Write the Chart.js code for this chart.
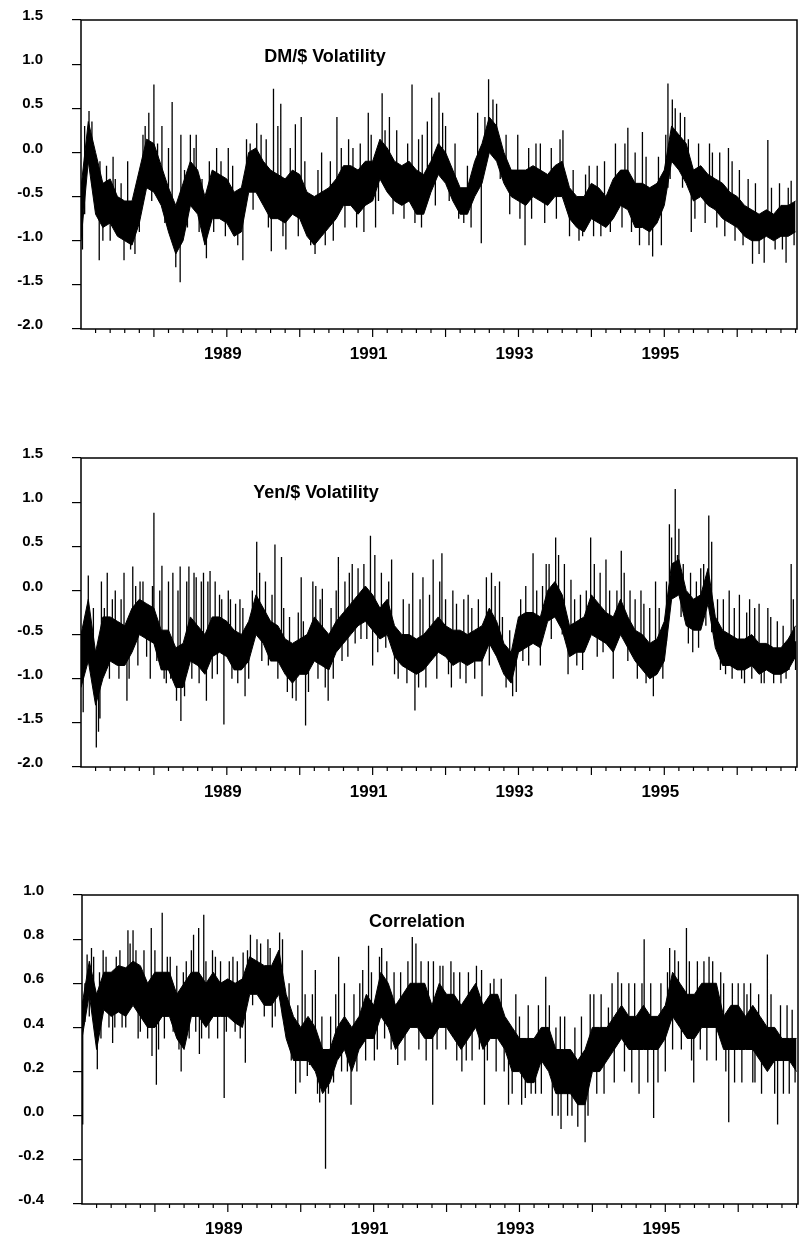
<!DOCTYPE html>
<html>
<head>
<meta charset="utf-8">
<script src="https://cdn.jsdelivr.net/npm/chart.js@4/dist/chart.umd.min.js"></script>
<style>
  html, body { margin: 0; padding: 0; background: #fff; }
  #wrap { position: relative; width: 803px; height: 1245px; }
  canvas { position: absolute; left: 0; }
</style>
</head>
<body>
<div id="wrap">
  <canvas id="dmChart" width="803" height="400" style="top:0px"></canvas>
  <canvas id="yenChart" width="803" height="400" style="top:438px"></canvas>
  <canvas id="corChart" width="803" height="400" style="top:875px"></canvas>
</div>
<script>
// core band sampled every 0.1 year from 1987.0
const START_YEAR = 1987;
const STEP = 0.1;

const dmHi = [-0.4, 0.35, 0.0, -0.35, -0.3, -0.5, -0.55, -0.55, -0.2, 0.15,
  0.1, -0.15, -0.4, -0.6, -0.35, -0.1, -0.2, -0.5, -0.2, -0.25,
  -0.3, -0.45, -0.4, 0.0, 0.05, -0.1, -0.2, -0.25, -0.3, -0.2,
  -0.25, -0.45, -0.5, -0.45, -0.4, -0.3, -0.15, -0.15, -0.2, -0.1,
  -0.1, 0.15, 0.05, -0.1, -0.15, -0.1, -0.2, -0.25, -0.1, 0.1,
  0.0, -0.2, -0.4, -0.4, -0.1, 0.1, 0.4, 0.3, 0.0, -0.2,
  -0.2, -0.2, -0.15, -0.2, -0.25, -0.15, -0.1, -0.4, -0.5, -0.5,
  -0.35, -0.4, -0.5, -0.3, -0.2, -0.2, -0.35, -0.35, -0.4, -0.35,
  -0.2, 0.3, 0.2, 0.1, -0.2, -0.15, -0.25, -0.3, -0.35, -0.45,
  -0.5, -0.6, -0.65, -0.7, -0.65, -0.7, -0.6, -0.6, -0.55];
const dmLo = [-1.0, -0.1, -0.7, -0.85, -0.8, -0.95, -1.0, -1.05, -0.8, -0.4,
  -0.45, -0.6, -0.9, -1.15, -1.0, -0.6, -0.7, -1.05, -0.75, -0.75,
  -0.8, -0.95, -0.9, -0.45, -0.45, -0.6, -0.75, -0.75, -0.8, -0.7,
  -0.75, -0.95, -1.05, -0.95, -0.85, -0.75, -0.6, -0.6, -0.7, -0.6,
  -0.55, -0.3, -0.45, -0.55, -0.6, -0.55, -0.7, -0.7, -0.45, -0.25,
  -0.35, -0.55, -0.7, -0.7, -0.5, -0.35, 0.0, -0.1, -0.35, -0.5,
  -0.55, -0.6, -0.5, -0.55, -0.6, -0.5, -0.5, -0.75, -0.85, -0.9,
  -0.75, -0.8, -0.85, -0.75, -0.6, -0.65, -0.85, -0.85, -0.9, -0.8,
  -0.6, -0.1, -0.2, -0.35, -0.55, -0.5, -0.6, -0.65, -0.75, -0.8,
  -0.85, -0.95, -1.0, -1.0, -0.95, -1.0, -0.95, -0.95, -0.9];
// [year, value] of single-day spikes sticking out of the band
const dmSpikes = [[1987.02, -1.1], [1987.05, 0.3], [1987.11, 0.47], [1987.15, 0.35], [1987.18, -0.5],
  [1987.25, -1.22], [1987.26, -0.1], [1987.3, -1.0], [1987.35, -0.15], [1987.4, -1.0],
  [1987.44, -0.05], [1987.47, -0.3], [1987.55, -0.35], [1987.59, -1.22], [1987.64, -0.1],
  [1987.68, -1.1], [1987.74, -1.15], [1987.8, -0.9], [1987.85, 0.2], [1987.88, 0.3],
  [1987.93, 0.45], [1987.97, -0.55], [1988.0, 0.77], [1988.05, 0.1], [1988.11, 0.3],
  [1988.15, -0.8], [1988.2, 0.05], [1988.25, 0.57], [1988.3, -1.3], [1988.36, -1.47],
  [1988.37, 0.2], [1988.42, -0.2], [1988.46, -0.85], [1988.5, 0.2], [1988.55, 0.05],
  [1988.58, 0.2], [1988.62, -0.9], [1988.66, -0.3], [1988.72, -1.2], [1988.76, -0.1],
  [1988.82, -0.9], [1988.86, 0.05], [1988.92, -0.1], [1988.98, -0.95], [1989.02, 0.05],
  [1989.08, -0.15], [1989.15, -1.05], [1989.22, -1.22], [1989.27, 0.15], [1989.32, 0.1],
  [1989.36, -0.65], [1989.41, 0.33], [1989.47, 0.2], [1989.54, 0.15], [1989.57, -0.85],
  [1989.61, -1.12], [1989.64, 0.72], [1989.7, 0.3], [1989.74, 0.55], [1989.77, -0.95],
  [1989.81, -1.1], [1989.87, 0.05], [1989.94, 0.32], [1989.98, -0.95], [1990.02, 0.4],
  [1990.07, -0.1], [1990.15, -1.05], [1990.21, -1.15], [1990.25, -0.2], [1990.3, 0.0],
  [1990.35, -1.05], [1990.42, -0.1], [1990.46, -1.0], [1990.51, 0.4], [1990.57, 0.05],
  [1990.62, -0.85], [1990.67, 0.15], [1990.73, 0.05], [1990.78, -0.85], [1990.83, 0.1],
  [1990.88, -0.9], [1990.94, 0.45], [1990.98, 0.2], [1991.04, -0.85], [1991.08, -0.55],
  [1991.13, 0.67], [1991.17, 0.25], [1991.23, 0.4], [1991.28, -0.7], [1991.33, 0.25],
  [1991.43, -0.75], [1991.48, 0.1], [1991.54, 0.77], [1991.58, -0.8], [1991.63, 0.15],
  [1991.67, -0.85], [1991.68, 0.2], [1991.75, 0.35], [1991.81, 0.62], [1991.86, -0.6],
  [1991.91, 0.68], [1991.96, 0.45], [1992.0, 0.3], [1992.05, -0.55], [1992.13, 0.1],
  [1992.18, -0.75], [1992.25, -0.8], [1992.3, -0.15], [1992.35, -0.85], [1992.44, 0.45],
  [1992.49, -1.03], [1992.54, 0.4], [1992.59, 0.83], [1992.65, 0.6], [1992.7, 0.55],
  [1992.75, -0.3], [1992.83, 0.2], [1992.88, -0.7], [1992.99, 0.2], [1993.02, -0.75],
  [1993.09, -1.05], [1993.14, 0.05], [1993.18, -0.75], [1993.24, 0.1], [1993.3, 0.1],
  [1993.36, -0.8], [1993.45, 0.05], [1993.52, -0.75], [1993.57, 0.15], [1993.61, 0.25],
  [1993.7, -0.95], [1993.75, -0.2], [1993.83, -1.0], [1993.88, -0.95], [1993.92, -0.25],
  [1993.97, -0.15], [1994.03, -0.95], [1994.08, -0.15], [1994.13, -0.95], [1994.18, -0.1],
  [1994.26, -0.9], [1994.33, 0.1], [1994.42, -0.85], [1994.46, 0.1], [1994.5, 0.28],
  [1994.55, -0.9], [1994.6, 0.0], [1994.66, -1.05], [1994.7, 0.23], [1994.75, -0.05],
  [1994.79, -1.05], [1994.84, -1.18], [1994.92, -0.05], [1994.96, -1.05], [1995.02, 0.2],
  [1995.05, 0.78], [1995.08, -0.3], [1995.11, 0.6], [1995.15, 0.5], [1995.22, 0.45],
  [1995.25, -0.4], [1995.28, 0.4], [1995.33, 0.15], [1995.37, -0.9], [1995.42, -0.75],
  [1995.47, 0.1], [1995.56, -0.8], [1995.62, 0.1], [1995.66, 0.0], [1995.72, -0.85],
  [1995.76, 0.0], [1995.83, -0.95], [1995.88, 0.05], [1995.93, -0.1], [1995.97, -1.0],
  [1996.03, -0.2], [1996.08, -1.05], [1996.15, -0.3], [1996.21, -1.26], [1996.25, -0.35],
  [1996.3, -1.15], [1996.37, -1.25], [1996.42, 0.14], [1996.47, -0.4], [1996.52, -1.1],
  [1996.58, -0.35], [1996.62, -1.1], [1996.67, -1.25], [1996.7, -0.4], [1996.74, -0.32],
  [1996.78, -1.05]];

const yenHi = [-0.5, -0.1, -0.7, -0.3, -0.3, -0.35, -0.4, -0.2, -0.1, -0.15,
  -0.2, -0.45, -0.45, -0.65, -0.6, -0.3, -0.4, -0.5, -0.3, -0.3,
  -0.35, -0.45, -0.5, -0.35, -0.05, -0.2, -0.35, -0.4, -0.55, -0.6,
  -0.55, -0.5, -0.3, -0.4, -0.5, -0.35, -0.25, -0.15, -0.05, 0.05,
  -0.05, -0.2, -0.1, -0.4, -0.5, -0.5, -0.55, -0.5, -0.4, -0.3,
  -0.4, -0.45, -0.45, -0.5, -0.45, -0.4, -0.2, -0.35, -0.6, -0.7,
  -0.3, -0.25, -0.25, -0.3, 0.0, 0.1, -0.05, -0.4, -0.35, -0.3,
  -0.05, -0.15, -0.25, -0.3, -0.1, -0.3, -0.45, -0.5, -0.6, -0.55,
  -0.35, 0.3, 0.35, 0.0, -0.1, -0.05, 0.25, -0.3, -0.45, -0.5,
  -0.55, -0.55, -0.5, -0.6, -0.6, -0.65, -0.65, -0.55, -0.4];
const yenLo = [-1.1, -0.8, -1.3, -1.0, -0.8, -0.85, -0.85, -0.7, -0.5, -0.55,
  -0.6, -0.9, -0.9, -1.1, -1.1, -0.8, -0.85, -0.95, -0.75, -0.7,
  -0.75, -0.9, -0.9, -0.8, -0.5, -0.6, -0.8, -0.8, -0.95, -1.05,
  -0.95, -0.95, -0.8, -0.85, -0.9, -0.7, -0.6, -0.5, -0.4, -0.35,
  -0.45, -0.55, -0.5, -0.75, -0.85, -0.9, -0.95, -0.9, -0.8, -0.7,
  -0.75, -0.85, -0.8, -0.85, -0.8, -0.8, -0.6, -0.75, -0.95, -1.05,
  -0.7, -0.65, -0.6, -0.65, -0.35, -0.3, -0.45, -0.75, -0.7, -0.7,
  -0.5, -0.55, -0.6, -0.7, -0.5, -0.65, -0.8, -0.9, -1.0, -0.95,
  -0.8, -0.1, -0.05, -0.4, -0.45, -0.45, -0.15, -0.65, -0.85, -0.85,
  -0.9, -0.9, -0.85, -0.95, -0.9, -0.95, -0.95, -0.9, -0.75];
const yenSpikes = [[1987.03, -1.38], [1987.06, -0.3], [1987.1, 0.17], [1987.14, -0.9], [1987.17, -0.2],
  [1987.21, -1.78], [1987.24, -1.6], [1987.26, -1.45], [1987.28, 0.1], [1987.32, -0.2],
  [1987.36, 0.2], [1987.39, -1.0], [1987.43, -0.1], [1987.47, 0.0], [1987.52, -1.0],
  [1987.55, -0.1], [1987.59, 0.2], [1987.63, -1.25], [1987.66, -1.0], [1987.71, 0.27],
  [1987.75, 0.05], [1987.78, -0.85], [1987.81, 0.1], [1987.85, 0.1], [1987.9, -0.75],
  [1987.95, -1.0], [1987.98, 0.05], [1988.0, 0.88], [1988.04, -0.8], [1988.08, 0.0],
  [1988.11, 0.28], [1988.14, -1.0], [1988.17, -1.05], [1988.2, 0.1], [1988.23, -1.0],
  [1988.26, 0.2], [1988.31, -1.25], [1988.33, 0.0], [1988.36, 0.27], [1988.37, -1.48],
  [1988.42, -1.2], [1988.45, 0.1], [1988.48, 0.27], [1988.52, -1.0], [1988.55, 0.2],
  [1988.58, 0.15], [1988.62, -1.05], [1988.65, 0.1], [1988.68, 0.2], [1988.72, -1.25],
  [1988.74, 0.1], [1988.77, 0.22], [1988.8, -1.0], [1988.84, 0.1], [1988.87, -0.95],
  [1988.9, -0.05], [1988.93, -0.1], [1988.96, -1.52], [1989.02, 0.0], [1989.05, -0.1],
  [1989.07, -1.0], [1989.12, -0.15], [1989.15, -1.05], [1989.18, -0.1], [1989.22, -0.2],
  [1989.25, -1.2], [1989.3, -1.0], [1989.35, 0.0], [1989.41, 0.55], [1989.45, 0.2],
  [1989.48, -0.8], [1989.53, 0.1], [1989.57, -0.85], [1989.62, -0.05], [1989.66, 0.52],
  [1989.7, -1.0], [1989.75, 0.38], [1989.78, -0.2], [1989.83, -1.15], [1989.86, -0.3],
  [1989.9, -1.22], [1989.95, -1.25], [1989.98, -0.25], [1990.02, 0.15], [1990.05, -0.35],
  [1990.08, -1.53], [1990.12, -1.15], [1990.18, 0.1], [1990.22, 0.05], [1990.25, -1.0],
  [1990.28, -0.1], [1990.31, 0.02], [1990.35, -1.1], [1990.39, -1.25], [1990.43, -0.2],
  [1990.46, -1.0], [1990.5, 0.0], [1990.53, 0.38], [1990.58, -0.8], [1990.62, 0.1],
  [1990.66, -0.75], [1990.68, 0.2], [1990.72, 0.3], [1990.76, -0.6], [1990.8, 0.25],
  [1990.84, -0.55], [1990.88, 0.3], [1990.92, -0.55], [1990.97, 0.62], [1991.0, -0.85],
  [1991.03, 0.4], [1991.07, -0.7], [1991.12, 0.2], [1991.18, -0.65], [1991.22, 0.1],
  [1991.26, 0.35], [1991.3, -0.95], [1991.35, -1.0], [1991.42, -0.1], [1991.47, -1.05],
  [1991.5, -0.15], [1991.55, 0.2], [1991.58, -1.36], [1991.63, -1.1], [1991.65, -0.1],
  [1991.69, 0.15], [1991.73, -1.1], [1991.78, -0.05], [1991.83, 0.35], [1991.88, -1.0],
  [1991.92, 0.1], [1991.95, 0.42], [1992.0, -0.1], [1992.04, -0.95], [1992.08, -1.1],
  [1992.1, 0.0], [1992.15, -0.15], [1992.2, -1.0], [1992.25, -0.1], [1992.28, -1.05],
  [1992.31, -0.05], [1992.36, -0.2], [1992.4, -1.0], [1992.45, -0.1], [1992.5, -1.2],
  [1992.56, 0.15], [1992.6, -0.85], [1992.63, 0.2], [1992.68, 0.05], [1992.74, 0.1],
  [1992.78, -0.3], [1992.83, -1.1], [1992.88, -0.45], [1992.92, -1.2], [1992.97, -1.15],
  [1993.03, -0.1], [1993.06, -0.8], [1993.1, 0.05], [1993.14, -0.85], [1993.2, 0.42],
  [1993.25, 0.0], [1993.3, -0.85], [1993.33, 0.05], [1993.38, 0.3], [1993.42, 0.3],
  [1993.45, -0.55], [1993.51, 0.6], [1993.55, 0.4], [1993.6, -0.5], [1993.63, 0.3],
  [1993.68, -0.95], [1993.72, 0.12], [1993.77, -0.1], [1993.8, -0.85], [1993.85, -0.05],
  [1993.88, -0.9], [1993.93, 0.0], [1993.99, 0.6], [1994.04, 0.3], [1994.08, -0.75],
  [1994.12, 0.2], [1994.16, -0.7], [1994.2, 0.35], [1994.25, 0.0], [1994.3, -1.0],
  [1994.35, 0.0], [1994.41, 0.45], [1994.45, 0.2], [1994.5, -0.8], [1994.53, 0.0],
  [1994.6, -0.1], [1994.63, -1.0], [1994.68, 0.0], [1994.72, -0.15], [1994.75, -1.05],
  [1994.8, -0.2], [1994.85, -1.2], [1994.88, 0.1], [1994.93, -0.2], [1994.98, -1.0],
  [1995.03, 0.1], [1995.07, 0.75], [1995.1, 0.6], [1995.15, 1.15], [1995.18, 0.4],
  [1995.2, 0.7], [1995.23, -0.3], [1995.26, 0.3], [1995.33, -0.6], [1995.36, 0.2],
  [1995.39, -0.7], [1995.44, 0.1], [1995.47, -0.65], [1995.5, 0.25], [1995.54, 0.3],
  [1995.57, -0.4], [1995.61, 0.85], [1995.65, 0.55], [1995.68, -0.3], [1995.73, -0.1],
  [1995.77, -0.9], [1995.81, -0.1], [1995.84, -0.95], [1995.89, 0.0], [1995.93, -1.0],
  [1995.96, -0.2], [1996.03, -0.05], [1996.06, -1.0], [1996.1, -1.05], [1996.13, -0.25],
  [1996.17, -0.1], [1996.2, -1.0], [1996.24, -0.2], [1996.3, -0.15], [1996.33, -1.05],
  [1996.37, -1.05], [1996.42, -0.2], [1996.46, -0.3], [1996.5, -1.05], [1996.55, -0.35],
  [1996.6, -1.05], [1996.63, -0.4], [1996.67, -1.0], [1996.71, -0.9], [1996.74, 0.3],
  [1996.77, -0.1], [1996.8, -0.9]];

const corHi = [0.5, 0.7, 0.55, 0.65, 0.65, 0.68, 0.67, 0.7, 0.68, 0.6,
  0.65, 0.65, 0.65, 0.55, 0.6, 0.65, 0.65, 0.6, 0.65, 0.6,
  0.62, 0.6, 0.62, 0.72, 0.7, 0.68, 0.68, 0.75, 0.55, 0.45,
  0.4, 0.45, 0.4, 0.3, 0.3, 0.4, 0.45, 0.4, 0.45, 0.55,
  0.5, 0.65, 0.6, 0.5, 0.55, 0.6, 0.6, 0.6, 0.5, 0.6,
  0.55, 0.55, 0.5, 0.55, 0.6, 0.5, 0.55, 0.55, 0.45, 0.4,
  0.35, 0.35, 0.35, 0.4, 0.4, 0.3, 0.3, 0.3, 0.25, 0.3,
  0.4, 0.4, 0.4, 0.45, 0.5, 0.45, 0.45, 0.5, 0.45, 0.45,
  0.5, 0.65, 0.6, 0.55, 0.55, 0.6, 0.6, 0.6, 0.45, 0.5,
  0.5, 0.45, 0.5, 0.45, 0.4, 0.4, 0.35, 0.35, 0.35];
const corLo = [0.35, 0.55, 0.3, 0.48, 0.45, 0.47, 0.45, 0.5, 0.45, 0.4,
  0.4, 0.45, 0.45, 0.35, 0.3, 0.45, 0.45, 0.4, 0.45, 0.45,
  0.45, 0.42, 0.4, 0.55, 0.55, 0.5, 0.5, 0.55, 0.35, 0.25,
  0.25, 0.25, 0.2, 0.1, 0.15, 0.25, 0.3, 0.2, 0.3, 0.35,
  0.35, 0.45, 0.4, 0.3, 0.35, 0.4, 0.4, 0.35, 0.35, 0.4,
  0.4, 0.35, 0.3, 0.35, 0.4, 0.3, 0.35, 0.35, 0.3, 0.2,
  0.2, 0.15, 0.15, 0.25, 0.2, 0.1, 0.1, 0.1, 0.05, 0.05,
  0.2, 0.2, 0.25, 0.3, 0.35, 0.3, 0.3, 0.3, 0.3, 0.3,
  0.35, 0.45, 0.4, 0.35, 0.35, 0.4, 0.4, 0.4, 0.3, 0.3,
  0.3, 0.3, 0.3, 0.25, 0.2, 0.25, 0.25, 0.25, 0.2];
const corSpikes = [[1987.01, -0.04], [1987.04, 0.6], [1987.07, 0.73], [1987.1, 0.45], [1987.13, 0.76],
  [1987.16, 0.72], [1987.18, 0.4], [1987.21, 0.21], [1987.24, 0.65], [1987.26, 0.35],
  [1987.29, 0.75], [1987.33, 0.72], [1987.37, 0.4], [1987.42, 0.33], [1987.45, 0.4],
  [1987.47, 0.72], [1987.52, 0.75], [1987.55, 0.4], [1987.6, 0.4], [1987.63, 0.84],
  [1987.66, 0.78], [1987.7, 0.84], [1987.74, 0.75], [1987.77, 0.35], [1987.8, 0.38],
  [1987.85, 0.75], [1987.9, 0.35], [1987.95, 0.85], [1987.96, 0.27], [1988.0, 0.75],
  [1988.02, 0.14], [1988.05, 0.3], [1988.1, 0.92], [1988.13, 0.35], [1988.17, 0.72],
  [1988.21, 0.72], [1988.25, 0.38], [1988.3, 0.68], [1988.33, 0.3], [1988.36, 0.2],
  [1988.39, 0.65], [1988.43, 0.7], [1988.47, 0.35], [1988.5, 0.75], [1988.53, 0.82],
  [1988.56, 0.38], [1988.6, 0.85], [1988.61, 0.28], [1988.64, 0.35], [1988.67, 0.91],
  [1988.7, 0.7], [1988.74, 0.35], [1988.79, 0.75], [1988.83, 0.72], [1988.86, 0.35],
  [1988.9, 0.7], [1988.95, 0.08], [1988.98, 0.38], [1989.02, 0.7], [1989.07, 0.72],
  [1989.1, 0.38], [1989.13, 0.7], [1989.17, 0.35], [1989.21, 0.74], [1989.24, 0.24],
  [1989.27, 0.75], [1989.31, 0.82], [1989.34, 0.5], [1989.4, 0.8], [1989.45, 0.78],
  [1989.5, 0.45], [1989.55, 0.8], [1989.58, 0.76], [1989.61, 0.4], [1989.65, 0.45],
  [1989.71, 0.83], [1989.75, 0.8], [1989.78, 0.45], [1989.84, 0.6], [1989.87, 0.25],
  [1989.93, 0.1], [1989.96, 0.5], [1989.99, 0.15], [1990.02, 0.75], [1990.06, 0.55],
  [1990.09, 0.18], [1990.12, 0.23], [1990.16, 0.55], [1990.2, 0.66], [1990.23, 0.1],
  [1990.26, 0.06], [1990.29, 0.45], [1990.34, -0.24], [1990.38, 0.1], [1990.41, 0.45],
  [1990.45, 0.15], [1990.48, 0.55], [1990.52, 0.72], [1990.56, 0.2], [1990.6, 0.6],
  [1990.64, 0.2], [1990.69, 0.05], [1990.73, 0.55], [1990.77, 0.2], [1990.81, 0.6],
  [1990.85, 0.66], [1990.89, 0.25], [1990.93, 0.77], [1990.97, 0.65], [1991.01, 0.25],
  [1991.05, 0.3], [1991.08, 0.72], [1991.11, 0.76], [1991.15, 0.35], [1991.18, 0.7],
  [1991.24, 0.3], [1991.28, 0.65], [1991.33, 0.23], [1991.37, 0.65], [1991.43, 0.25],
  [1991.47, 0.7], [1991.53, 0.81], [1991.58, 0.78], [1991.62, 0.3], [1991.65, 0.7],
  [1991.72, 0.25], [1991.75, 0.7], [1991.81, 0.05], [1991.82, 0.7], [1991.87, 0.3],
  [1991.91, 0.68], [1991.95, 0.68], [1991.99, 0.3], [1992.06, 0.7], [1992.1, 0.65],
  [1992.14, 0.25], [1992.18, 0.65], [1992.21, 0.2], [1992.27, 0.25], [1992.3, 0.65],
  [1992.35, 0.25], [1992.41, 0.68], [1992.45, 0.3], [1992.48, 0.66], [1992.52, 0.05],
  [1992.56, 0.25], [1992.6, 0.6], [1992.65, 0.62], [1992.68, 0.2], [1992.75, 0.62],
  [1992.79, 0.2], [1992.85, 0.05], [1992.9, 0.1], [1992.95, 0.55], [1993.0, 0.45],
  [1993.03, 0.05], [1993.08, 0.08], [1993.12, 0.5], [1993.16, 0.1], [1993.22, 0.1],
  [1993.26, 0.5], [1993.3, 0.1], [1993.36, 0.63], [1993.41, 0.5], [1993.45, 0.0],
  [1993.5, 0.4], [1993.53, 0.0], [1993.56, 0.45], [1993.57, -0.06], [1993.62, 0.45],
  [1993.66, 0.0], [1993.72, 0.0], [1993.76, 0.4], [1993.8, -0.05], [1993.85, 0.45],
  [1993.9, -0.12], [1993.94, 0.0], [1993.97, 0.55], [1994.02, 0.55], [1994.06, 0.1],
  [1994.12, 0.55], [1994.16, 0.1], [1994.22, 0.49], [1994.27, 0.6], [1994.3, 0.15],
  [1994.35, 0.65], [1994.4, 0.6], [1994.44, 0.2], [1994.5, 0.6], [1994.54, 0.15],
  [1994.58, 0.6], [1994.64, 0.1], [1994.68, 0.6], [1994.71, 0.8], [1994.76, 0.15],
  [1994.8, 0.6], [1994.84, -0.01], [1994.9, 0.15], [1994.94, 0.6], [1995.0, 0.2],
  [1995.03, 0.65], [1995.06, 0.76], [1995.1, 0.3], [1995.13, 0.75], [1995.18, 0.7],
  [1995.22, 0.3], [1995.29, 0.85], [1995.33, 0.7], [1995.36, 0.25], [1995.39, 0.15],
  [1995.44, 0.7], [1995.48, 0.3], [1995.53, 0.7], [1995.57, 0.25], [1995.6, 0.72],
  [1995.65, 0.7], [1995.7, 0.25], [1995.76, 0.65], [1995.8, 0.6], [1995.83, 0.2],
  [1995.87, -0.03], [1995.92, 0.6], [1995.95, 0.15], [1996.0, 0.6], [1996.05, 0.15],
  [1996.08, 0.6], [1996.12, 0.55], [1996.17, 0.6], [1996.2, 0.15], [1996.23, 0.15],
  [1996.28, 0.55], [1996.32, 0.1], [1996.4, 0.73], [1996.45, 0.55], [1996.5, 0.1],
  [1996.54, -0.04], [1996.58, 0.5], [1996.62, 0.1], [1996.67, 0.5], [1996.7, 0.1],
  [1996.74, 0.48], [1996.78, 0.15]];

const xTickLabels = [1989, 1991, 1993, 1995];

function bandPoints(arr) {
  return arr.map((v, i) => ({ x: START_YEAR + i * STEP, y: v }));
}

function spikePoints(spikes, hi, lo) {
  const pts = [];
  spikes.slice().sort((a, b) => a[0] - b[0]).forEach(([t, v]) => {
    let i = Math.round((t - START_YEAR) / STEP);
    i = Math.max(0, Math.min(hi.length - 1, i));
    const base = (hi[i] + lo[i]) / 2;
    pts.push({ x: t, y: base }, { x: t, y: v }, { x: t, y: null });
  });
  return pts;
}

// frame, x tick marks and the panel label inside the plot
const panelDecor = {
  id: 'panelDecor',
  afterDraw(chart, args, opts) {
    const { ctx, chartArea: a } = chart;
    const x = chart.scales.x;
    ctx.save();
    ctx.strokeStyle = '#000';
    ctx.lineWidth = 1.5;
    ctx.strokeRect(a.left, a.top, a.right - a.left, a.bottom - a.top);
    ctx.lineWidth = 1.2;
    for (let yr = START_YEAR; yr < 1997; yr++) {
      for (let k = 0; k < 5; k++) {
        const v = yr + k / 5;
        if (v <= x.min + 0.01 || v >= x.max - 0.01) continue;
        const px = x.getPixelForValue(v);
        ctx.beginPath();
        ctx.moveTo(px, a.bottom);
        ctx.lineTo(px, a.bottom + (k === 0 ? 8 : 4));
        ctx.stroke();
      }
    }
    ctx.fillStyle = '#000';
    ctx.font = 'bold 18px "Liberation Sans", Arial, sans-serif';
    ctx.textAlign = 'center';
    ctx.textBaseline = 'alphabetic';
    ctx.fillText(opts.text, a.left + opts.dx, a.top + opts.dy);
    ctx.restore();
  }
};

function makePanel(id, hi, lo, spikes, yMin, yMax, yStep, title, titleDx, titleDy, padLeft) {
  const canvasH = 400;
  return new Chart(document.getElementById(id), {
    type: 'line',
    data: {
      datasets: [
        {
          data: bandPoints(hi),
          borderColor: '#000',
          backgroundColor: '#000',
          borderWidth: 1,
          pointRadius: 0,
          tension: 0,
          fill: '+1'
        },
        {
          data: bandPoints(lo),
          borderColor: '#000',
          borderWidth: 1,
          pointRadius: 0,
          tension: 0,
          fill: false
        },
        {
          data: spikePoints(spikes, hi, lo),
          borderColor: '#000',
          borderWidth: 1.3,
          pointRadius: 0,
          tension: 0,
          spanGaps: false,
          fill: false
        }
      ]
    },
    options: {
      responsive: false,
      animation: false,
      devicePixelRatio: 1,
      layout: { padding: { top: 20, right: 6 - padLeft, left: padLeft, bottom: 0 } },
      plugins: {
        legend: { display: false },
        tooltip: { enabled: false },
        panelDecor: { text: title, dx: titleDx, dy: titleDy }
      },
      scales: {
        x: {
          type: 'linear',
          min: START_YEAR,
          max: 1996.82,
          afterFit: (s) => { s.height = canvasH - 20 - 309; },
          grid: { display: false, drawTicks: false },
          border: { display: false },
          afterBuildTicks: (s) => { s.ticks = xTickLabels.map(v => ({ value: v })); },
          ticks: {
            autoSkip: false,
            maxRotation: 0,
            padding: 15,
            labelOffset: -4,
            color: '#000',
            font: { family: '"Liberation Sans", Arial, sans-serif', size: 17, weight: 'bold' },
            callback: (v) => String(v)
          }
        },
        y: {
          min: yMin,
          max: yMax,
          afterFit: (s) => {
            s.width = 81;
            s.paddingTop = 0;
            s.paddingBottom = 0;
          },
          grid: { drawOnChartArea: false, drawTicks: true, tickLength: 9, color: '#000', lineWidth: 1.2 },
          border: { display: false },
          ticks: {
            stepSize: yStep,
            padding: 29,
            labelOffset: -4,
            color: '#000',
            font: { family: '"Liberation Sans", Arial, sans-serif', size: 15, weight: 'bold' },
            callback: (v) => (Math.abs(v) < 1e-9 ? 0 : v).toFixed(1)
          }
        }
      }
    },
    plugins: [panelDecor]
  });
}

makePanel('dmChart', dmHi, dmLo, dmSpikes, -2.0, 1.5, 0.5, 'DM/$ Volatility', 244, 42, 0);
makePanel('yenChart', yenHi, yenLo, yenSpikes, -2.0, 1.5, 0.5, 'Yen/$ Volatility', 235, 40, 0);
makePanel('corChart', corHi, corLo, corSpikes, -0.4, 1.0, 0.2, 'Correlation', 335, 32, 1);
</script>
</body>
</html>
